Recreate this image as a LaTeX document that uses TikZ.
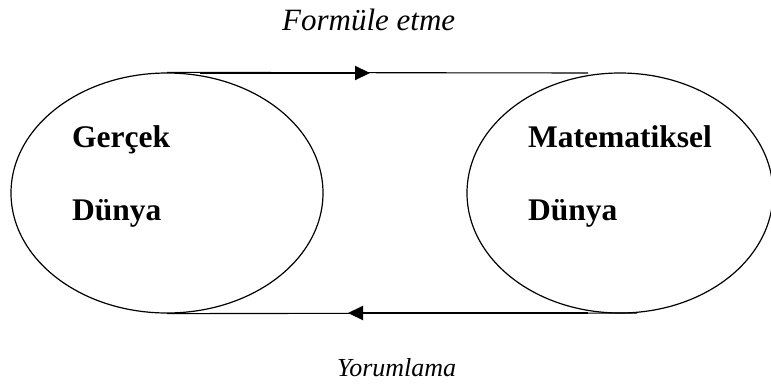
\documentclass[tikz,border=0pt]{standalone}
\usepackage{fontspec}
\setmainfont{Liberation Serif}
\usetikzlibrary{shapes.geometric,arrows.meta}
\tikzset{
  world/.style={draw, ellipse, line width=1.2pt, inner sep=0pt},
  lbl/.style={anchor=base west, inner sep=0pt, font=\fontsize{31.5}{36}\selectfont\bfseries},
  captext/.style={anchor=base west, inner sep=0pt},
  thinline/.style={line width=1.1pt},
  flow/.style={line width=2.2pt, -{Triangle[length=15pt,width=14pt]}}
}
\begin{document}
\begin{tikzpicture}[x=1pt,y=-1pt]
\path[use as bounding box] (0,0) rectangle (771,383);
\clip (0,0) rectangle (771,383);
\node[world, minimum width=312pt, minimum height=240pt] (L) at (167,193) {};
\node[world, minimum width=306pt, minimum height=240pt] (R) at (620,193) {};
\node[lbl] (g1) at (72,147) {Gerçek};
\node[lbl] (g2) at (72,220) {Dünya};
\node[lbl] (m1) at (528,147) {Matematiksel};
\node[lbl] (m2) at (528,220) {Dünya};
\node[captext, font=\fontsize{31}{36}\selectfont\itshape] (f) at (282,30) {Formüle etme};
\node[captext, font=\fontsize{26}{30}\selectfont\itshape] (y) at (337,376) {Yorumlama};
\coordinate (tr) at (588,73);
\coordinate (ta) at (200,73);
\coordinate (tb) at (370,73);
\coordinate (bl) at (637,313);
\coordinate (ba) at (588,313);
\coordinate (bb) at (348,313);
\draw[thinline] (L.north) -- (tr);
\draw[thinline] (L.south) -- (bl);
\draw[flow] (ta) -- (tb);
\draw[flow] (ba) -- (bb);
\end{tikzpicture}
\end{document}
